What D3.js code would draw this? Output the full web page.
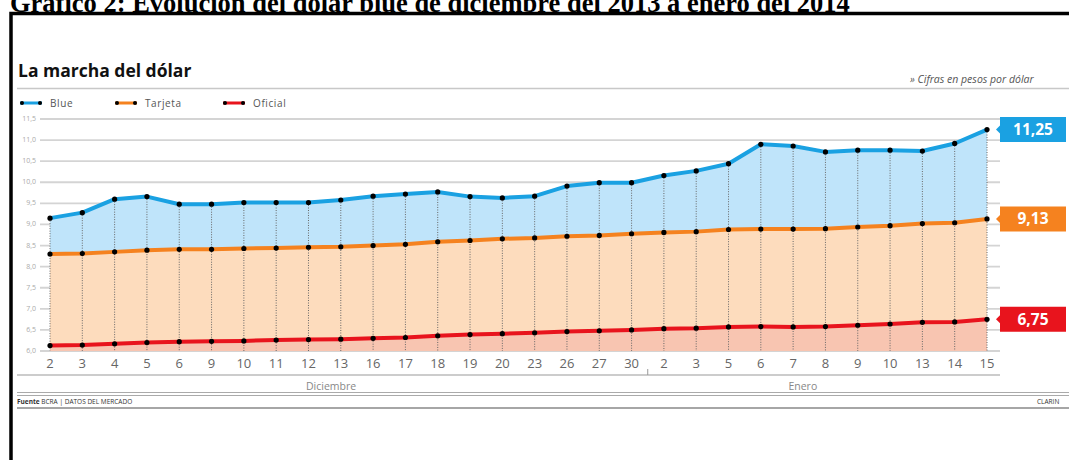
<!DOCTYPE html>
<html>
<head>
<meta charset="utf-8">
<script src="https://cdn.jsdelivr.net/npm/d3@7"></script>
<style>
  body { margin: 0; background: #fff; }
  svg { display: block; }
</style>
</head>
<body>
<div id="chart"></div>
<script>
// Días hábiles (dic 2013 - ene 2014)
const days = ["2","3","4","5","6","9","10","11","12","13","16","17","18","19","20","23","26","27","30",
              "2","3","5","6","7","8","9","10","13","14","15"];

// Cotizaciones
const blue = [9.15,9.28,9.60,9.66,9.48,9.48,9.52,9.52,9.52,9.58,9.67,9.72,9.77,9.66,9.63,9.67,9.91,
              9.99,9.99,10.16,10.27,10.44,10.90,10.86,10.72,10.76,10.76,10.74,10.92,11.25];
const tarjeta = [8.30,8.31,8.35,8.39,8.41,8.41,8.43,8.44,8.46,8.47,8.50,8.53,8.59,8.62,8.66,8.68,8.72,
                 8.74,8.78,8.81,8.83,8.88,8.89,8.89,8.90,8.94,8.97,9.02,9.04,9.13];
const oficial = [6.13,6.14,6.17,6.20,6.22,6.23,6.24,6.26,6.27,6.28,6.30,6.32,6.36,6.39,6.41,6.43,6.46,
                 6.48,6.50,6.53,6.54,6.57,6.58,6.57,6.58,6.61,6.64,6.68,6.69,6.75];

const yTicks = [6.0,6.5,7.0,7.5,8.0,8.5,9.0,9.5,10.0,10.5,11.0,11.5];
const months = [{ name: "Diciembre", at: 8.7 }, { name: "Enero", at: 23.3 }];
const monthBreak = 18.5;

const W = 1069, H = 460;
const sans = "'Open Sans', 'Noto Sans', sans-serif";

const series = [
    { name: "Blue", values: blue, color: "#1aa1e2", fill: "#bfe4fa" },
    { name: "Tarjeta", values: tarjeta, color: "#f5821f", fill: "#fddcbd" },
    { name: "Oficial", values: oficial, color: "#e8141d", fill: "#f8c5b1" }
];

const svg = d3.select("#chart").append("svg")
    .attr("width", W)
    .attr("height", H);

//Escalas
const x = d3.scaleLinear().domain([0, days.length - 1]).range([50, 987]);
const y = d3.scaleLinear().domain([6, 11.5]).range([351, 119]);
const fmt = v => d3.format(".1f")(v).replace(".", ",");
const fmt2 = v => d3.format(".2f")(v).replace(".", ",");

//Título del documento (recortado arriba, como en la imagen)
svg.append("text")
    .attr("x", 10).attr("y", 12)
    .attr("font-family", "'Liberation Serif', 'Times New Roman', serif")
    .attr("font-weight", "bold")
    .attr("font-size", 26.5)
    .text("Gráfico 2: Evolución del dólar blue de diciembre del 2013 a enero del 2014");

//Marco negro
svg.append("path")
    .attr("d", `M11,${H} V13.5 H${W}`)
    .attr("fill", "none")
    .attr("stroke", "#000")
    .attr("stroke-width", 3.5);

//Encabezado
svg.append("text")
    .attr("x", 18).attr("y", 77)
    .attr("font-family", sans)
    .attr("font-weight", "bold")
    .attr("font-size", 17.5)
    .attr("fill", "#111")
    .text("La marcha del dólar");

svg.append("text")
    .attr("x", 910).attr("y", 83)
    .attr("font-family", sans)
    .attr("font-style", "italic")
    .attr("font-size", 10.5)
    .attr("fill", "#555")
    .text("» Cifras en pesos por dólar");

svg.append("line")
    .attr("x1", 17).attr("x2", W)
    .attr("y1", 88.5).attr("y2", 88.5)
    .attr("stroke", "#c8c8c8")
    .attr("stroke-width", 1.5);

//Leyenda
const legendX = [20, 115, 223];
const legend = svg.selectAll(".legend")
    .data(series)
    .enter().append("g")
    .attr("class", "legend")
    .attr("transform", (d, i) => `translate(${legendX[i]},103)`);
legend.append("line")
    .attr("x1", 0).attr("x2", 22)
    .attr("stroke", d => d.color)
    .attr("stroke-width", 3);
legend.selectAll("circle")
    .data([2, 20])
    .enter().append("circle")
    .attr("cx", d => d).attr("r", 2)
    .attr("fill", "#000");
legend.append("text")
    .attr("x", 30).attr("y", 3.5)
    .attr("font-family", sans)
    .attr("font-size", 10)
    .attr("letter-spacing", 0.6)
    .attr("fill", "#555")
    .text(d => d.name);

//Grilla horizontal
svg.selectAll(".grid")
    .data(yTicks)
    .enter().append("line")
    .attr("class", "grid")
    .attr("x1", 40).attr("x2", 1000)
    .attr("y1", d => y(d)).attr("y2", d => y(d))
    .attr("stroke", "#d4d4d4")
    .attr("stroke-width", 1.8);

svg.selectAll(".ylab")
    .data(yTicks)
    .enter().append("text")
    .attr("class", "ylab")
    .attr("x", 36).attr("y", d => y(d) + 2)
    .attr("text-anchor", "end")
    .attr("font-family", sans)
    .attr("font-size", 7)
    .attr("fill", "#aaa")
    .text(fmt);

//Áreas apiladas
const idx = d3.range(days.length);
const lower = [tarjeta, oficial, null];
series.forEach((s, k) => {
    const area = d3.area()
        .x(i => x(i))
        .y0(i => lower[k] ? y(lower[k][i]) : y(6))
        .y1(i => y(s.values[i]));
    svg.append("path")
        .datum(idx)
        .attr("d", area)
        .attr("fill", s.fill);
});

//Líneas punteadas verticales
svg.selectAll(".drop")
    .data(idx)
    .enter().append("line")
    .attr("class", "drop")
    .attr("x1", i => x(i)).attr("x2", i => x(i))
    .attr("y1", i => y(blue[i])).attr("y2", y(6))
    .attr("stroke", "#666")
    .attr("stroke-width", 1)
    .attr("stroke-dasharray", "1,1.5");

//Líneas y puntos
series.forEach(s => {
    const line = d3.line()
        .x(i => x(i))
        .y(i => y(s.values[i]));
    svg.append("path")
        .datum(idx)
        .attr("d", line)
        .attr("fill", "none")
        .attr("stroke", s.color)
        .attr("stroke-width", 4)
        .attr("stroke-linejoin", "round");
    svg.append("g").selectAll("circle")
        .data(idx)
        .enter().append("circle")
        .attr("cx", i => x(i))
        .attr("cy", i => y(s.values[i]))
        .attr("r", 2.6)
        .attr("fill", "#000");
});

//Etiquetas del último valor
const last = days.length - 1;
series.forEach(s => {
    const cy = y(s.values[last]);
    svg.append("path")
        .attr("d", `M996,${cy} L1000,${cy - 4} V${cy - 12.5} H1066 V${cy + 12.5} H1000 V${cy + 4} Z`)
        .attr("fill", s.color);
    svg.append("text")
        .attr("x", 1033).attr("y", cy + 5.5)
        .attr("text-anchor", "middle")
        .attr("font-family", sans)
        .attr("font-weight", "bold")
        .attr("font-size", 15.5)
        .attr("fill", "#fff")
        .text(fmt2(s.values[last]));
});

//Eje X
svg.selectAll(".xlab")
    .data(days)
    .enter().append("text")
    .attr("class", "xlab")
    .attr("x", (d, i) => x(i)).attr("y", 368)
    .attr("text-anchor", "middle")
    .attr("font-family", sans)
    .attr("font-size", 13)
    .attr("fill", "#666")
    .text(d => d);

svg.append("line")
    .attr("x1", 17).attr("x2", 1000)
    .attr("y1", 375).attr("y2", 375)
    .attr("stroke", "#bbb")
    .attr("stroke-width", 1.5);

const xb = (x(Math.floor(monthBreak)) + x(Math.ceil(monthBreak))) / 2;
svg.append("line")
    .attr("x1", xb).attr("x2", xb)
    .attr("y1", 369).attr("y2", 375)
    .attr("stroke", "#999");

svg.selectAll(".month")
    .data(months)
    .enter().append("text")
    .attr("class", "month")
    .attr("x", d => x(d.at)).attr("y", 390)
    .attr("text-anchor", "middle")
    .attr("font-family", sans)
    .attr("font-size", 10.5)
    .attr("fill", "#888")
    .text(d => d.name);

//Pie
[392.5, 395.5].forEach(yy => {
    svg.append("line")
        .attr("x1", 17).attr("x2", W)
        .attr("y1", yy).attr("y2", yy)
        .attr("stroke", "#aaa")
        .attr("stroke-width", 1);
});
svg.append("line")
    .attr("x1", 17).attr("x2", W)
    .attr("y1", 408).attr("y2", 408)
    .attr("stroke", "#888")
    .attr("stroke-width", 1.3);

const source = svg.append("text")
    .attr("x", 17).attr("y", 403.5)
    .attr("font-family", sans)
    .attr("font-size", 6.5)
    .attr("fill", "#333");
source.append("tspan").attr("font-weight", "bold").text("Fuente");
source.append("tspan").text(" BCRA  |  DATOS DEL MERCADO");

svg.append("text")
    .attr("x", 1037).attr("y", 403.5)
    .attr("font-family", sans)
    .attr("font-size", 6.5)
    .attr("fill", "#333")
    .text("CLARIN");
</script>
</body>
</html>
